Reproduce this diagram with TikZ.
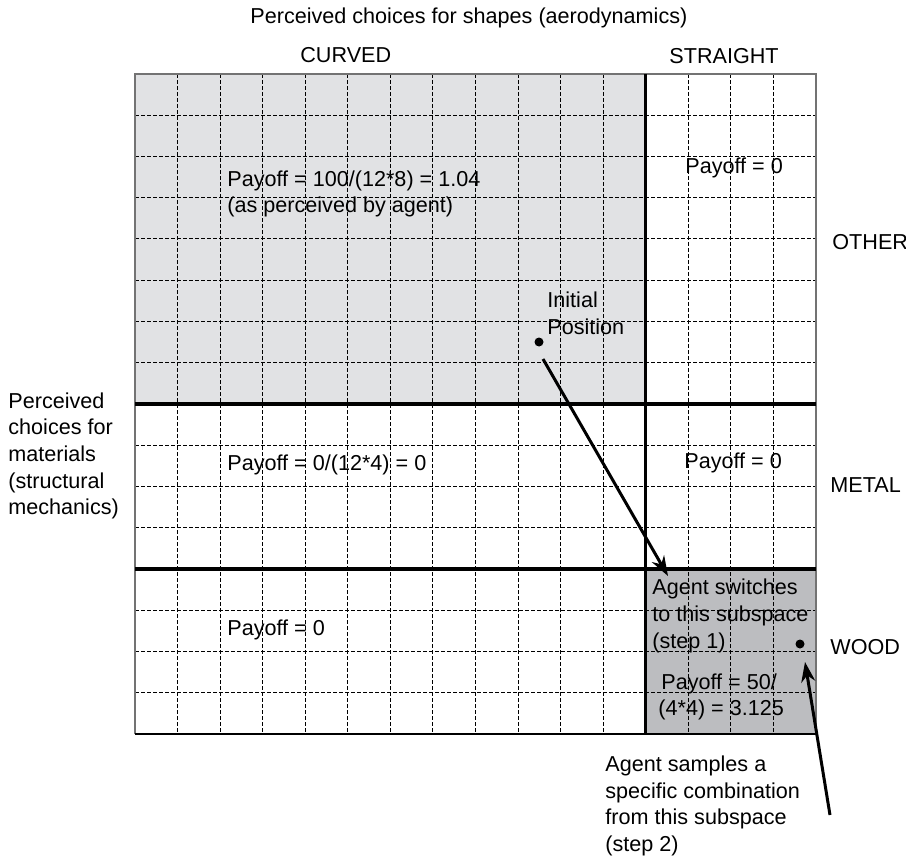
\documentclass[tikz,border=0pt]{standalone}
\usepackage{fontspec}
\setmainfont{Liberation Sans}
\usetikzlibrary{arrows.meta}
\definecolor{curvedgray}{HTML}{E1E2E4}
\definecolor{woodgray}{HTML}{BCBDC0}

\begin{document}
\begin{tikzpicture}[x=0.5pt,y=-0.5pt,
        gridline/.style={line width=0.5pt, dash pattern=on 2pt off 1pt},
        divider/.style={line width=1.7pt},
        lbl/.style={inner sep=0pt, anchor=west, align=left, font=\fontsize{10.8}{13.3}\selectfont},
        dot/.style={circle, fill, inner sep=0pt, minimum size=4.5pt},
        move/.style={line width=1.5pt, -{Stealth[length=10pt,width=7pt]}}]

                                \useasboundingbox (0,0) rectangle (906,856);

                                \fill[curvedgray] (135,74) rectangle (645.75,404);
                                \fill[woodgray] (645.75,569) rectangle (816,734);

                                \foreach \c in {1,...,15}
                                  \draw[gridline] ({135+\c*42.5625},74) -- ({135+\c*42.5625},734);
                                \foreach \r in {1,...,15}
                                  \draw[gridline] (135,{74+\r*41.25}) -- (816,{74+\r*41.25});

                                \draw[line width=0.9pt, black!55] (135,734)
                                -- (135,74)
                                -- (816,74)
                                -- (816,734);
                                \draw[line width=0.9pt] (135,734) -- (816,734);

                                \draw[divider] (645.75,74) -- (645.75,734);
                                \draw[divider] (135,404) -- (816,404);
                                \draw[divider] (135,569) -- (816,569);

                                \node[lbl] (shapes) at (250,18) {Perceived choices for shapes (aerodynamics)};
                                \node[lbl] (curved) at (300,55) {CURVED};
                                \node[lbl] (straight) at (669,56) {STRAIGHT};
                                \node[lbl] (other) at (832,242) {OTHER};
                                \node[lbl] (metal) at (830,485) {METAL};
                                \node[lbl] (wood) at (830,647) {WOOD};
                                \node[lbl] (materials) at (8,456) {Perceived\\choices for\\materials\\(structural\\mechanics)};

                                \node[lbl] (curvedother) at (227,194) {Payoff = 100/(12*8) = 1.04\\(as perceived by agent)};
                                \node[lbl] (straightother) at (685,168) {Payoff = 0};
                                \node[lbl] (initlabel) at (547,313) {Initial\\Position};
                                \node[dot] (initial) at (539,342) {};
                                \node[lbl] (curvedmetal) at (227,465) {Payoff = 0/(12*4) = 0};
                                \node[lbl] (straightmetal) at (684,463) {Payoff = 0};
                                \node[lbl] (curvedwood) at (227,630) {Payoff = 0};
                                \node[lbl] (switchlabel) at (652,616) {Agent switches\\to this subspace\\(step 1)};
                                \node[dot] (sample) at (800,644) {};
                                \node[lbl] (woodpayoff) at (658,697) {\hspace*{1.5pt}Payoff = 50/\\(4*4) = 3.125};
                                \node[lbl] (samplelabel) at (605,806) {Agent samples a\\specific combination\\from this subspace\\(step 2)};

                                \coordinate (initstart) at (543,359);
                                \coordinate (switchtip) at (668,576);
                                \draw[move] (initstart) -- (switchtip);

                                \coordinate (sampletail) at (830,815);
                                \coordinate (sampletip) at (805,662);
                                \draw[move] (sampletail) -- (sampletip);

                            \end{tikzpicture}
\end{document}
